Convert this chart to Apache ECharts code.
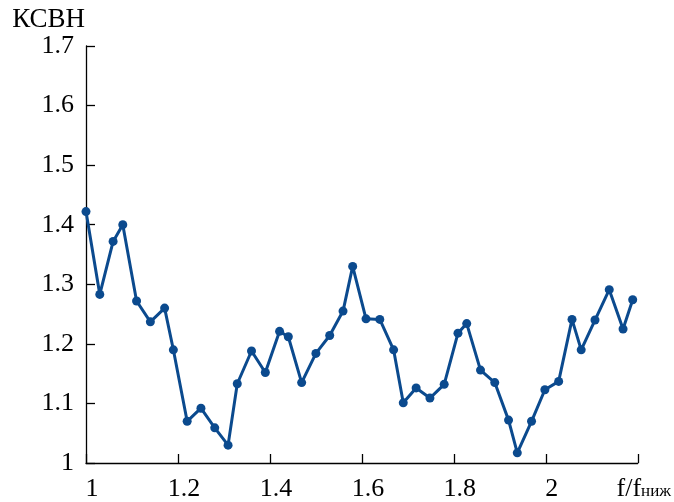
<!DOCTYPE html>
<html>
<head>
<meta charset="utf-8">
<script src="https://cdn.jsdelivr.net/npm/echarts@6/dist/echarts.min.js"></script>
<style>
  html, body { margin: 0; padding: 0; background: #fff; }
  #chart { width: 674px; height: 502px; }
</style>
</head>
<body>
<div id="chart"></div>
<script>
// Relative frequency f/f_lower and the measured VSWR (КСВН) at each point
const freqRatio = [
  1.000, 1.030, 1.059, 1.080, 1.110, 1.140, 1.171, 1.190, 1.220, 1.250, 1.280,
  1.309, 1.329, 1.360, 1.390, 1.421, 1.440, 1.469, 1.500, 1.530, 1.559, 1.580,
  1.609, 1.639, 1.669, 1.690, 1.718, 1.748, 1.779, 1.809, 1.828, 1.858, 1.889,
  1.919, 1.938, 1.969, 1.998, 2.028, 2.057, 2.077, 2.107, 2.138, 2.168, 2.189
];
const vswr = [
  1.422, 1.283, 1.372, 1.400, 1.272, 1.237, 1.260, 1.190, 1.070, 1.092, 1.059,
  1.030, 1.133, 1.188, 1.152, 1.221, 1.212, 1.135, 1.184, 1.214, 1.255, 1.330,
  1.242, 1.241, 1.190, 1.101, 1.126, 1.109, 1.132, 1.218, 1.234, 1.156, 1.135,
  1.072, 1.017, 1.070, 1.123, 1.137, 1.241, 1.190, 1.240, 1.291, 1.225, 1.274
];
// Axis tick values
const xTicks = [1, 1.2, 1.4, 1.6, 1.8, 2, 2.2];
const yTicks = [1, 1.1, 1.2, 1.3, 1.4, 1.5, 1.6, 1.7];

const FONT = '"Liberation Serif", "Times New Roman", serif';
const LINE_COLOR = '#0b4a8e';

const chart = echarts.init(document.getElementById('chart'), null, { renderer: 'canvas' });

const axisCommon = {
  axisLine: { show: true, lineStyle: { color: '#000', width: 1.3 } },
  axisTick: { show: true, inside: true, length: 9, lineStyle: { color: '#000', width: 1.3 } },
  splitLine: { show: false },
  minorTick: { show: false }
};

chart.setOption({
  animation: false,
  backgroundColor: '#fff',
  grid: { left: 86, right: 31, top: 46, bottom: 38.5, containLabel: false },
  xAxis: Object.assign({}, axisCommon, {
    type: 'value',
    min: xTicks[0],
    max: xTicks[xTicks.length - 1],
    interval: 0.2,
    axisLabel: {
      margin: 13,
      padding: [0, 0, 0, 12],
      color: '#000',
      fontFamily: FONT,
      fontSize: 26,
      formatter: function (v) {
        if (Math.abs(v - xTicks[xTicks.length - 1]) < 1e-6) return '{a|f/f}{b|ниж}';
        return String(+v.toFixed(1));
      },
      rich: {
        a: { fontFamily: FONT, fontSize: 26, color: '#000', verticalAlign: 'bottom' },
        b: { fontFamily: FONT, fontSize: 17, color: '#000', verticalAlign: 'bottom', padding: [0, 0, 2, 0] }
      }
    }
  }),
  yAxis: Object.assign({}, axisCommon, {
    type: 'value',
    min: yTicks[0],
    max: yTicks[yTicks.length - 1],
    interval: 0.1,
    name: 'КСВН',
    nameLocation: 'end',
    nameGap: 11,
    nameTextStyle: { color: '#000', fontFamily: FONT, fontSize: 27, align: 'right', padding: [0, 1, 0, 0] },
    axisLabel: {
      margin: 12,
      padding: [4, 0, 0, 0],
      color: '#000',
      fontFamily: FONT,
      fontSize: 26,
      formatter: function (v) { return String(+v.toFixed(1)); }
    }
  }),
  series: [{
    type: 'line',
    data: freqRatio.map(function (f, i) { return [f, vswr[i]]; }),
    symbol: 'circle',
    symbolSize: 9,
    showAllSymbol: true,
    lineStyle: { color: LINE_COLOR, width: 3 },
    itemStyle: { color: LINE_COLOR },
    clip: false
  }]
});
</script>
</body>
</html>
